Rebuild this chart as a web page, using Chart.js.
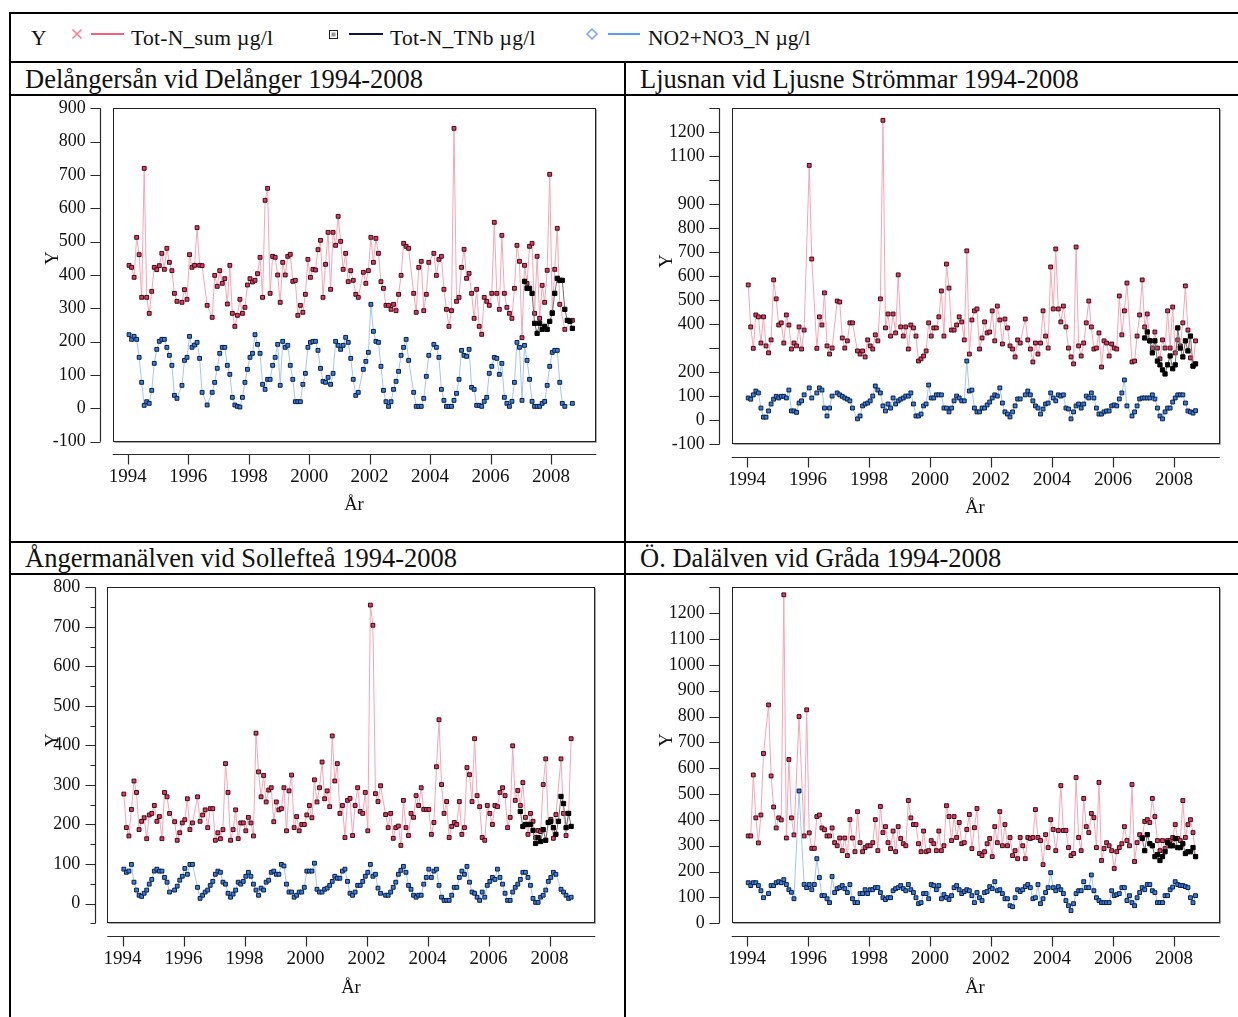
<!DOCTYPE html>
<html>
<head>
<meta charset="utf-8">
<script src="https://cdn.jsdelivr.net/npm/chart.js@4.4.1/dist/chart.umd.min.js"></script>
<style>
  html, body { margin: 0; padding: 0; background: #fff; }
  body { width: 1238px; height: 1017px; position: relative; overflow: hidden; }
  #sheet { position: absolute; left: 0; top: 0; }
  canvas { position: absolute; }
</style>
</head>
<body>
<svg id="sheet" width="1238" height="1017" xmlns="http://www.w3.org/2000/svg"
     font-family="'Liberation Serif', 'Times New Roman', serif" fill="#111">
  <!-- page rules -->
  <rect x="9" y="12" width="1229" height="2" fill="#000"/>
  <rect x="9" y="12" width="2" height="1005" fill="#000"/>
  <rect x="9" y="61" width="1229" height="2" fill="#000"/>
  <rect x="9" y="94" width="1229" height="2" fill="#000"/>
  <rect x="624" y="61" width="2" height="956" fill="#000"/>
  <rect x="9" y="541" width="1229" height="2" fill="#000"/>
  <rect x="9" y="573" width="1229" height="2" fill="#000"/>

  <!-- legend -->
  <g font-size="21.5">
    <text x="31" y="45">Y</text>
    <path d="M72.5 29.5 L81.5 38.5 M81.5 29.5 L72.5 38.5" stroke="#f27d90" stroke-width="1.5" fill="none"/>
    <line x1="91" y1="34" x2="124" y2="34" stroke="#f0627e" stroke-width="2"/>
    <text x="131" y="45" letter-spacing="0.3">Tot-N_sum µg/l</text>
    <rect x="329.5" y="30.5" width="8" height="8" fill="#fff" stroke="#222" stroke-width="1"/>
    <rect x="331.5" y="32.5" width="4" height="4" fill="#999"/>
    <line x1="349" y1="34" x2="383" y2="34" stroke="#12124a" stroke-width="2"/>
    <text x="390" y="45" letter-spacing="0.3">Tot-N_TNb µg/l</text>
    <path d="M592 29 L597 34 L592 39 L587 34 Z" fill="none" stroke="#6ea6ff" stroke-width="1.5"/>
    <line x1="608" y1="34" x2="640" y2="34" stroke="#5b9bf0" stroke-width="2"/>
    <text x="648" y="45">NO2+NO3_N µg/l</text>
  </g>

  <!-- panel titles -->
  <g font-size="26.5">
    <text id="t1" x="25" y="88"></text>
    <text id="t2" x="640" y="88"></text>
    <text id="t3" x="25" y="567"></text>
    <text id="t4" x="640" y="567"></text>
  </g>
</svg>

<script>
// ---------------------------------------------------------------
// Monthly nitrogen series, Jan 1994 - Sep 2008 (µg/l)
// ---------------------------------------------------------------
const firstYear = 1994;
const monthCount = 177;
const months = Array.from({ length: monthCount }, (_, i) => firstYear + (i + 0.5) / 12);
const xTickYears = [1994, 1996, 1998, 2000, 2002, 2004, 2006, 2008];

const panelTitles = [
  'Delångersån vid Delånger 1994-2008',
  'Ljusnan vid Ljusne Strömmar 1994-2008',
  'Ångermanälven vid Sollefteå 1994-2008',
  'Ö. Dalälven vid Gråda 1994-2008'
];

// Delångersån
const p1TotN = [
  429,423,393,513,461,333,720,333,285,351,423,416,
  428,465,417,480,438,413,345,321,null,318,356,327,
  461,423,429,542,429,428,null,309,null,273,399,366,
  413,375,389,313,429,285,246,279,327,285,303,370,
  389,379,384,404,453,333,624,660,345,456,453,400,
  318,438,400,456,462,381,384,279,309,288,342,447,
  393,417,415,476,504,333,432,528,357,528,489,576,
  501,417,465,380,413,384,342,333,null,408,375,413,
  513,438,510,465,380,360,309,309,297,312,293,342,
  399,495,486,480,null,345,288,423,441,293,342,438,
  null,465,399,447,456,357,297,246,293,840,321,333,
  423,477,390,405,345,270,357,246,222,333,321,309,
  345,558,345,297,519,345,303,285,270,360,489,441,
  212,429,375,486,495,285,456,270,369,318,414,702,
  288,417,540,312,null,237,null,null,264
];
const p1No3 = [
  221,207,216,207,153,78,9,20,15,54,135,177,
  201,207,207,183,159,129,39,30,null,69,144,153,
  216,183,190,198,150,48,null,10,null,48,78,120,
  165,183,183,129,102,33,10,6,4,33,78,117,
  153,165,221,192,165,72,57,87,87,129,153,192,
  69,201,183,189,129,87,20,20,20,72,105,183,
  198,201,201,174,120,81,78,93,72,105,201,189,
  177,189,213,198,150,87,39,48,null,117,141,168,
  312,231,201,198,126,54,20,6,20,57,81,111,
  159,183,207,144,null,48,6,6,6,30,96,159,
  null,192,183,153,57,24,6,6,6,24,45,87,
  174,159,156,177,63,57,9,9,6,21,33,105,
  126,153,150,102,135,33,15,6,21,78,198,183,
  24,189,144,87,21,6,6,6,15,21,69,126,
  168,174,174,78,15,6,null,null,15
];
const p1Tnb = [381,360,360,345,255,225,255,237,246,237,261,285,345,390,384,384,297,264,261,240];
const p1YTicks = [-100,0,100,200,300,400,500,600,700,800,900];

// Ljusnan
const p2TotN = [
  564,389,300,439,431,322,431,310,281,335,585,506,
  397,406,322,439,397,297,322,310,389,297,376,null,
  1062,672,null,300,431,397,531,310,276,301,null,497,
  493,343,301,331,406,406,null,289,276,289,264,335,
  310,297,356,331,506,1250,385,443,351,443,364,606,
  389,351,389,297,397,385,351,247,256,268,289,406,
  351,385,385,431,539,351,651,551,376,376,397,431,
  410,335,706,276,418,456,464,297,343,410,364,368,
  456,331,476,418,318,422,385,310,297,264,335,322,
  null,422,335,297,243,322,276,322,456,351,301,639,
  464,714,464,410,476,389,301,264,235,722,310,268,
  322,406,497,389,297,301,364,222,331,322,268,318,
  301,297,518,356,456,572,null,243,247,351,439,585,
  389,443,331,301,368,301,256,335,301,456,301,472,
  281,335,310,406,560,376,260,226,331
];
const p2No3 = [
  93,88,106,122,114,51,13,13,39,68,88,100,
  93,100,100,93,126,39,39,33,72,81,106,null,
  135,93,null,114,135,126,51,18,51,101,null,114,
  106,100,93,88,81,51,null,6,18,60,68,72,
  81,101,143,126,114,60,39,68,51,93,68,81,
  88,93,101,101,114,68,18,18,26,60,68,147,
  93,93,106,106,106,51,51,35,51,81,101,93,
  81,81,247,122,126,51,35,35,51,51,64,76,
  93,106,101,135,72,35,26,14,35,60,89,89,
  null,106,122,106,81,60,51,26,47,68,72,114,
  93,81,106,101,106,51,47,6,35,60,68,51,
  68,101,93,114,93,51,26,26,35,39,39,60,
  64,60,89,114,168,60,null,18,35,60,89,93,
  93,93,93,106,89,51,18,6,35,51,51,76,
  93,106,106,106,72,39,35,30,40
];
const p2Tnb = [343,368,331,281,331,247,231,210,193,231,268,215,231,385,301,264,331,289,351,226,235];
const p2YTicks = [-100,0,100,200,300,400,500,600,700,800,900,1000,1100,1200,1300];
const p2YUnlabeled = [300,1000,1300];

// Ångermanälven
const p3TotN = [
  277,192,171,238,310,281,187,208,217,164,224,228,
  248,208,220,164,281,270,228,null,207,160,179,204,
  212,265,187,204,null,270,208,224,237,192,240,240,
  160,179,164,187,354,281,160,187,237,164,204,204,
  184,218,204,171,431,333,270,324,257,287,293,207,
  257,237,240,293,184,285,325,192,220,184,200,200,
  224,248,217,313,257,293,358,265,285,245,424,310,
  354,228,248,167,261,266,172,248,293,233,228,281,
  184,755,704,278,258,298,null,225,192,228,165,192,
  196,147,261,192,172,228,218,273,248,293,238,238,
  238,175,205,346,465,301,228,258,167,195,205,200,
  258,175,192,344,326,258,417,273,245,167,160,248,
  228,200,248,245,281,293,273,192,218,399,261,286,
  248,306,218,175,228,208,167,185,182,301,366,205,
  213,165,225,null,366,228,172,228,417
];
const p3No3 = [
  87,79,82,99,54,34,21,18,26,34,49,61,
  82,87,82,82,66,54,29,null,34,44,59,69,
  89,74,99,99,null,41,13,21,29,34,46,56,
  74,82,79,54,49,26,16,24,34,54,49,56,
  69,79,69,49,34,21,39,34,54,59,79,82,
  74,74,99,95,49,29,29,16,21,29,29,41,
  82,82,82,102,36,29,29,36,39,46,56,69,
  64,64,82,87,56,26,21,29,46,46,56,69,
  79,99,69,74,39,26,null,21,21,29,41,54,
  74,84,94,79,46,36,21,16,21,21,49,66,
  87,66,82,87,46,16,8,8,8,21,41,41,
  66,82,74,94,54,29,26,16,8,29,16,46,
  56,66,61,87,66,49,26,8,8,29,41,49,
  61,79,79,66,46,13,3,3,16,21,34,56,
  66,79,74,null,36,29,21,13,16
];
const p3Tnb = [233,195,200,200,200,185,152,167,157,187,160,205,208,192,175,208,271,253,192,228,195];
const p3YTicks = [0,100,200,300,400,500,600,700,800];
const p3YMinor = [-50,50,150,250,350,450,550,650,750];

// Ö. Dalälven
const p4TotN = [
  338,338,574,408,311,419,657,null,845,570,450,369,
  408,400,1271,330,634,408,342,null,800,null,338,826,
  350,290,290,413,419,369,362,338,338,369,312,300,
  330,281,330,262,401,330,277,432,312,277,293,300,
  300,312,401,281,452,351,374,312,289,357,277,374,
  328,308,300,475,408,382,382,308,277,357,277,281,
  320,308,281,357,281,300,455,413,320,413,332,390,
  308,312,363,421,289,370,444,270,262,277,308,328,
  258,374,312,432,300,382,300,332,262,281,250,332,
  300,250,332,328,332,440,332,320,227,343,293,401,
  363,281,359,533,359,359,293,262,270,564,332,281,
  483,374,351,425,409,293,545,243,289,312,300,281,
  212,277,293,308,374,320,300,537,239,312,343,332,
  394,401,390,483,413,320,281,320,289,320,320,332,
  382,328,320,475,332,382,401,351,258
];
const p4No3 = [
  157,146,157,157,146,126,99,null,115,146,146,157,
  161,157,169,150,130,120,95,null,512,null,150,138,
  150,130,150,250,177,107,107,95,80,181,119,134,
  138,146,134,119,150,95,80,80,115,115,130,115,
  130,130,138,138,119,99,92,99,99,126,134,138,
  146,134,126,150,130,119,99,76,80,115,115,95,
  150,146,130,146,95,111,100,92,107,138,146,130,
  115,123,130,126,107,80,119,99,88,119,123,142,
  134,161,126,130,115,95,95,68,64,99,130,123,
  130,142,150,138,95,99,150,76,95,119,138,196,
  138,126,142,130,115,88,68,49,76,115,126,126,
  161,138,138,187,126,99,88,80,80,80,80,126,
  107,111,115,138,138,88,107,80,68,99,119,138,
  130,150,150,126,119,80,80,80,107,107,130,140,
  161,150,146,146,142,138,99,80,107
];
const p4Tnb = [328,281,343,308,300,258,266,243,258,277,312,300,300,328,293,293,308,270,277,277,293,258];
const p4YTicks = [0,100,200,300,400,500,600,700,800,900,1000,1100,1200,1300];
const p4YUnlabeled = [1300];

// ---------------------------------------------------------------
// Page placement of each panel (canvas cell and plot frame, px)
// ---------------------------------------------------------------
const layouts = [
  { cell: { x: 12,  y: 97,  w: 612, h: 444 }, area: { l: 112.7, t: 108.3, r: 596.3,  b: 441.7 }, yTitle: [53, 258],  xTitle: [354, 510] },
  { cell: { x: 627, y: 97,  w: 611, h: 444 }, area: { l: 731.7, t: 108.3, r: 1219.7, b: 444.3 }, yTitle: [667, 261], xTitle: [975, 513] },
  { cell: { x: 12,  y: 576, w: 612, h: 441 }, area: { l: 107.3, t: 587.3, r: 595.3,  b: 923.3 }, yTitle: [53, 740],  xTitle: [351, 993] },
  { cell: { x: 627, y: 576, w: 611, h: 441 }, area: { l: 731.7, t: 587.3, r: 1219.7, b: 923.3 }, yTitle: [667, 740], xTitle: [975, 993] }
];

const panels = [
  { totN: p1TotN, no3: p1No3, tnb: p1Tnb, yMin: -100, yMax: 900,  yTicks: p1YTicks, yMinor: [],       yHide: [] },
  { totN: p2TotN, no3: p2No3, tnb: p2Tnb, yMin: -100, yMax: 1300, yTicks: p2YTicks, yMinor: [],       yHide: p2YUnlabeled },
  { totN: p3TotN, no3: p3No3, tnb: p3Tnb, yMin: -50,  yMax: 800,  yTicks: p3YTicks, yMinor: p3YMinor, yHide: [] },
  { totN: p4TotN, no3: p4No3, tnb: p4Tnb, yMin: 0,    yMax: 1300, yTicks: p4YTicks, yMinor: [],       yHide: p4YUnlabeled }
];

const SERIF = '"Liberation Serif", "Times New Roman", serif';
const AXIS_GAP = 12.7;
Chart.defaults.font.family = SERIF;
Chart.defaults.color = '#111';

panelTitles.forEach((t, i) => { document.getElementById('t' + (i + 1)).textContent = t; });

// Frame around the plot area plus detached axes with their tick marks
function frameAxes(L, P) {
  return {
    id: 'frameAxes',
    beforeDatasetsDraw(chart) {
      const { ctx, chartArea: a } = chart;
      const l = Math.round(a.left) + 0.5, t = Math.round(a.top) + 0.5;
      const r = Math.round(a.right) - 0.5, b = Math.round(a.bottom) - 0.5;
      ctx.save();
      ctx.lineWidth = 1;
      ctx.strokeStyle = '#a8a8a8';
      ctx.beginPath();
      ctx.moveTo(r + 1, t + 1); ctx.lineTo(r + 1, b + 1); ctx.lineTo(l + 1, b + 1);
      ctx.stroke();
      ctx.strokeStyle = '#222';
      ctx.strokeRect(l, t, r - l, b - t);
      ctx.restore();
    },
    afterDraw(chart) {
      const { ctx, chartArea: a, scales: { x, y } } = chart;
      ctx.save();
      ctx.strokeStyle = '#2a2a2a';
      ctx.lineWidth = 1.2;
      const ax = Math.round(a.left - AXIS_GAP) + 0.5;
      const ay = Math.round(a.bottom + AXIS_GAP) + 0.5;
      ctx.beginPath();
      ctx.moveTo(ax, a.top); ctx.lineTo(ax, a.bottom);
      P.yTicks.forEach(v => {
        const py = Math.round(y.getPixelForValue(v)) + 0.5;
        ctx.moveTo(ax - 10, py); ctx.lineTo(ax, py);
      });
      P.yMinor.forEach(v => {
        const py = Math.round(y.getPixelForValue(v)) + 0.5;
        ctx.moveTo(ax - 5, py); ctx.lineTo(ax, py);
      });
      ctx.moveTo(a.left, ay); ctx.lineTo(a.right, ay);
      xTickYears.forEach(v => {
        const px = Math.round(x.getPixelForValue(v)) + 0.5;
        ctx.moveTo(px, ay); ctx.lineTo(px, ay + 10);
      });
      ctx.stroke();

      ctx.fillStyle = '#111';
      ctx.font = '18.5px ' + SERIF;
      ctx.textAlign = 'center';
      ctx.textBaseline = 'alphabetic';
      ctx.fillText('År', L.xTitle[0] - L.cell.x, L.xTitle[1] - L.cell.y);
      ctx.translate(L.yTitle[0] - L.cell.x, L.yTitle[1] - L.cell.y);
      ctx.rotate(-Math.PI / 2);
      ctx.textBaseline = 'middle';
      ctx.fillText('Y', 0, 0);
      ctx.restore();
    }
  };
}

function buildPanel(L, P) {
  const c = document.createElement('canvas');
  c.width = L.cell.w; c.height = L.cell.h;
  c.style.left = L.cell.x + 'px'; c.style.top = L.cell.y + 'px';
  c.style.width = L.cell.w + 'px'; c.style.height = L.cell.h + 'px';
  document.body.appendChild(c);

  const tnbDates = months.slice(months.length - P.tnb.length);
  const pts = (vals, dates) => vals.map((v, i) => ({ x: dates[i], y: v }));
  const common = { pointStyle: 'rect', borderWidth: 1, pointBorderWidth: 1, spanGaps: true, tension: 0, pointHoverRadius: 0 };

  new Chart(c, {
    type: 'line',
    data: {
      datasets: [
        Object.assign({}, common, {
          label: 'Tot-N_sum µg/l', data: pts(P.totN, months), order: 3,
          borderColor: '#f6a5b6', pointRadius: 2.7,
          pointBackgroundColor: '#e23a62', pointBorderColor: '#3c0c16'
        }),
        Object.assign({}, common, {
          label: 'NO2+NO3_N µg/l', data: pts(P.no3, months), order: 2,
          borderColor: '#a4c6f2', pointRadius: 2.7,
          pointBackgroundColor: '#3a7fe0', pointBorderColor: '#0a1e44'
        }),
        Object.assign({}, common, {
          label: 'Tot-N_TNb µg/l', data: pts(P.tnb, tnbDates), order: 1,
          borderColor: '#707070', pointRadius: 3,
          pointBackgroundColor: '#000', pointBorderColor: '#000'
        })
      ]
    },
    options: {
      responsive: false,
      animation: false,
      devicePixelRatio: 1,
      events: [],
      layout: { padding: { left: 0, bottom: 0, top: L.area.t - L.cell.y, right: L.cell.x + L.cell.w - L.area.r } },
      plugins: { legend: { display: false }, tooltip: { enabled: false } },
      scales: {
        x: {
          type: 'linear', min: 1993.5, max: 2009.5,
          afterBuildTicks: s => { s.ticks = xTickYears.map(v => ({ value: v })); },
          afterFit: s => { s.height = L.cell.y + L.cell.h - L.area.b; s.paddingLeft = 0; s.paddingRight = 0; },
          grid: { display: false, drawTicks: false },
          border: { display: false },
          ticks: { padding: 24, autoSkip: false, maxRotation: 0, font: { size: 19 }, color: '#111', callback: v => String(v) }
        },
        y: {
          type: 'linear', min: P.yMin, max: P.yMax,
          afterBuildTicks: s => { s.ticks = P.yTicks.map(v => ({ value: v })); },
          afterFit: s => { s.width = L.area.l - L.cell.x; s.paddingTop = 0; s.paddingBottom = 0; },
          grid: { display: false, drawTicks: false },
          border: { display: false },
          ticks: { padding: 27, autoSkip: false, font: { size: 18 }, color: '#111',
                   callback: v => (P.yHide.includes(v) ? '' : String(v)) }
        }
      }
    },
    plugins: [frameAxes(L, P)]
  });
}

layouts.forEach((L, i) => buildPanel(L, panels[i]));
</script>
</body>
</html>
